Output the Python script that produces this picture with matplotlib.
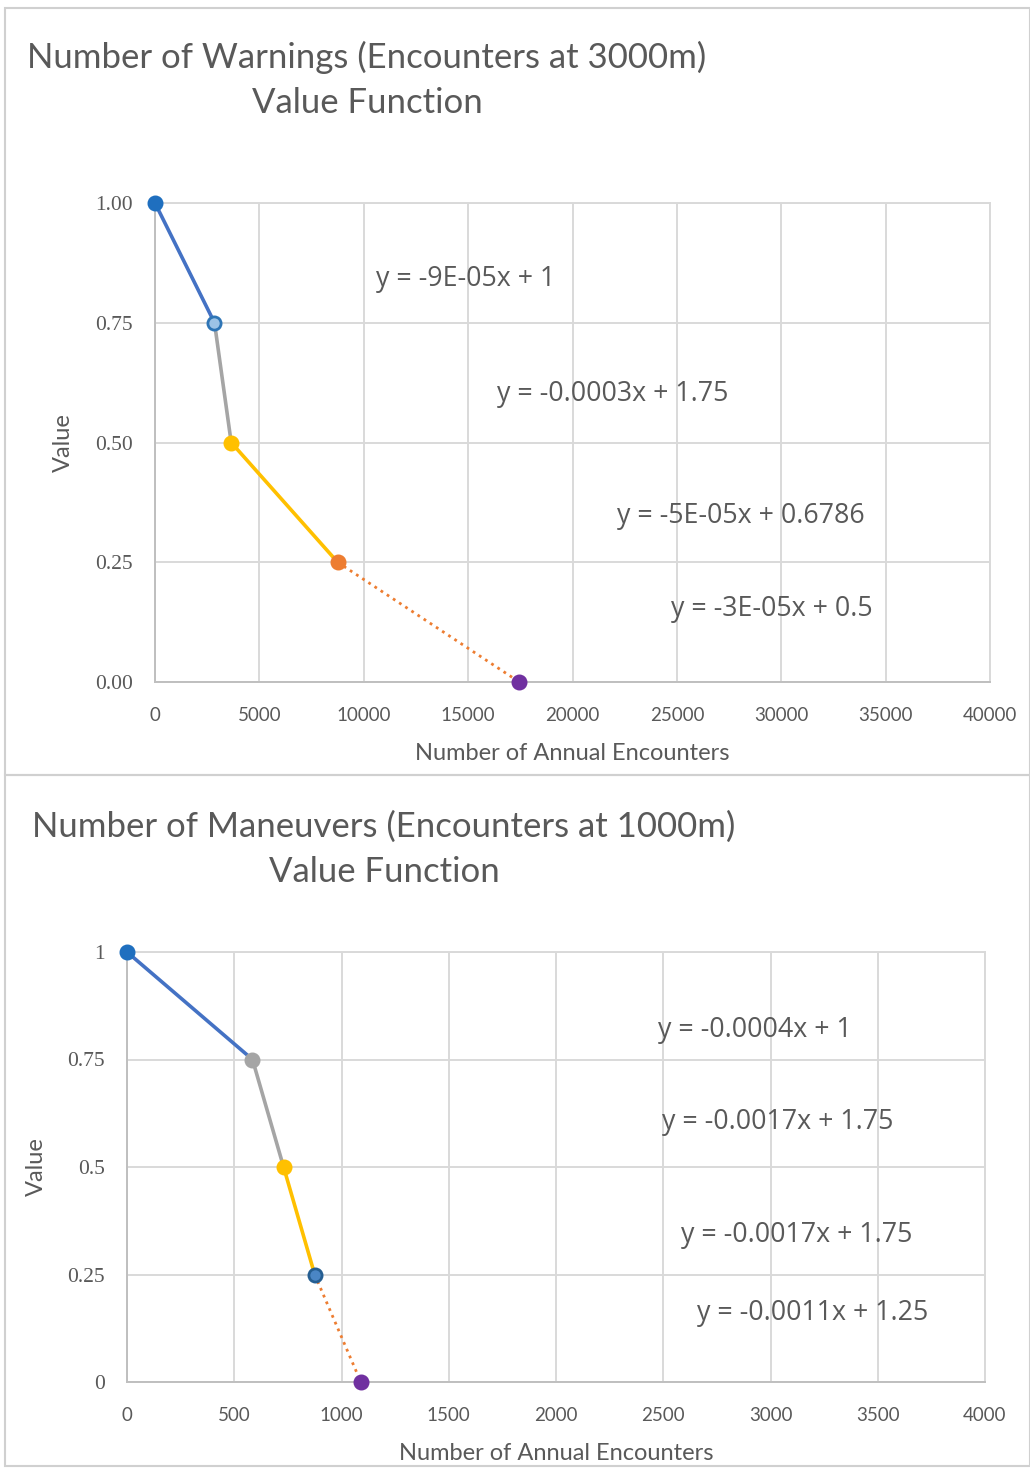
import matplotlib.pyplot as plt
from matplotlib.patches import Rectangle

# data
warn_x = [0, 2850, 3650, 8750, 17450]
warn_y = [1.0, 0.75, 0.5, 0.25, 0.0]
warn_xticks = [0, 5000, 10000, 15000, 20000, 25000, 30000, 35000, 40000]
warn_yticks = [0.0, 0.25, 0.5, 0.75, 1.0]
warn_eqs = ['y = -9E-05x + 1', 'y = -0.0003x + 1.75',
            'y = -5E-05x + 0.6786', 'y = -3E-05x + 0.5']

man_x = [0, 585, 730, 875, 1090]
man_y = [1.0, 0.75, 0.5, 0.25, 0.0]
man_xticks = [0, 500, 1000, 1500, 2000, 2500, 3000, 3500, 4000]
man_yticks = [0.0, 0.25, 0.5, 0.75, 1.0]
man_eqs = ['y = -0.0004x + 1', 'y = -0.0017x + 1.75',
           'y = -0.0017x + 1.75', 'y = -0.0011x + 1.25']

# styles
seg_colors = ['#4472C4', '#A5A5A5', '#FFC000', '#ED7D31']
seg_styles = ['-', '-', '-', ':']
warn_mk = [('#1F6FBF', '#1F6FBF'), ('#2E75B6', '#9DC3E6'), ('#FFC000', '#FFC000'),
           ('#ED7D31', '#ED7D31'), ('#7030A0', '#7030A0')]
man_mk = [('#1F6FBF', '#1F6FBF'), ('#A5A5A5', '#A5A5A5'), ('#FFC000', '#FFC000'),
          ('#255E91', '#4A86C5'), ('#7030A0', '#7030A0')]

narrow = ['Lato', 'DejaVu Sans']
serif = ['Liberation Serif', 'DejaVu Serif']
eqfont = ['Open Sans', 'DejaVu Sans']
grid_c = '#D9D9D9'
text_c = '#595959'

W, H = 1030, 1469
fig = plt.figure(figsize=(W / 100, H / 100), dpi=100)


def fx(px):
    return px / W


def fy(py):
    return 1 - py / H


# panel borders
fig.patches.append(Rectangle((fx(5), fy(775)), fx(1025), fy(8) - fy(775),
                             transform=fig.transFigure, fill=False, ec='#D0D0D0', lw=1.5))
fig.patches.append(Rectangle((fx(5), fy(1466)), fx(1025), fy(775) - fy(1466),
                             transform=fig.transFigure, fill=False, ec='#D0D0D0', lw=1.5))


def draw(box, xs, ys, mks, xticks, yticks, xmax, ylabels, eqs, eq_pos,
         title, title_xy, ylab_x, xlab_y):
    l, t, r, b = box
    ax = fig.add_axes([fx(l), fy(b), fx(r) - fx(l), fy(t) - fy(b)])
    ax.set_xlim(0, xmax)
    ax.set_ylim(0, 1)
    ax.set_xticks(xticks)
    ax.set_yticks(yticks)
    ax.set_yticklabels(ylabels, family=serif, fontsize=15.5, color=text_c)
    ax.set_xticklabels([str(v) for v in xticks], family=narrow, fontsize=13.5, color=text_c)
    ax.tick_params(axis='x', length=0, pad=18)
    ax.tick_params(axis='y', length=0, pad=16)
    ax.grid(True, color=grid_c, lw=1.4)
    for s in ax.spines.values():
        s.set_color(grid_c)
        s.set_linewidth(1.4)
    ax.spines['left'].set_color('#BFBFBF')
    ax.spines['bottom'].set_color('#BFBFBF')
    for i in range(len(xs) - 1):
        ax.plot(xs[i:i + 2], ys[i:i + 2], color=seg_colors[i], ls=seg_styles[i],
                lw=2.6 if seg_styles[i] == '-' else 2.0, zorder=3, clip_on=False)
    for i in range(len(xs)):
        ec, fc = mks[i]
        ax.plot(xs[i], ys[i], 'o', ms=9.5, mec=ec, mfc=fc, mew=2, zorder=4, clip_on=False)
    for s, (px, py) in zip(eqs, eq_pos):
        fig.text(fx(px), fy(py), s, family=eqfont, fontsize=19.3, color=text_c,
                 ha='left', va='center')
    fig.text(fx(title_xy[0]), fy(title_xy[1]), title, family=narrow, fontsize=25,
             color=text_c, ha='center', va='center', linespacing=1.5)
    fig.text(fx(ylab_x), fy((t + b) / 2), 'Value', family=narrow, fontsize=17,
             color=text_c, rotation=90, ha='center', va='center')
    fig.text(fx((l + r) / 2), fy(xlab_y), 'Number of Annual Encounters', family=narrow,
             fontsize=17, color=text_c, ha='center', va='center')
    return ax


draw((155, 203, 990, 682), warn_x, warn_y, warn_mk, warn_xticks, warn_yticks, 40000,
     ['0.00', '0.25', '0.50', '0.75', '1.00'], warn_eqs,
     [(376, 279), (497, 394), (617, 516), (671, 609)],
     'Number of Warnings (Encounters at 3000m)\nValue Function', (367, 80), 63, 753)

draw((127, 952, 985, 1382), man_x, man_y, man_mk, man_xticks, man_yticks, 4000,
     ['0', '0.25', '0.5', '0.75', '1'], man_eqs,
     [(658, 1030), (662, 1122), (681, 1235), (697, 1313)],
     'Number of Maneuvers (Encounters at 1000m)\nValue Function', (384, 849), 36, 1453)

fig.savefig('out.png', dpi=100)
